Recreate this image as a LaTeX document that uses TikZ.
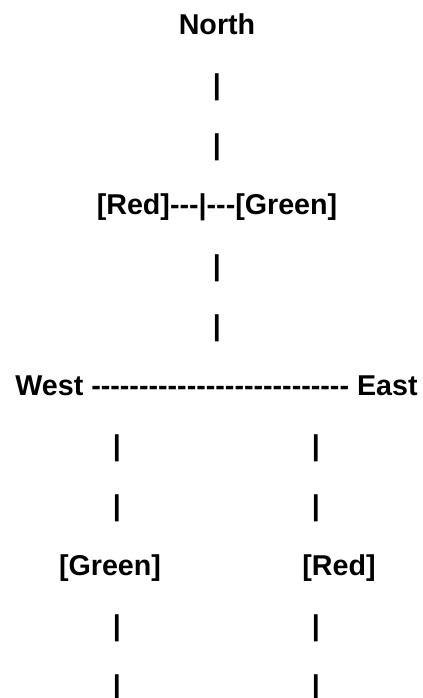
\documentclass[tikz,border=0pt]{standalone}
\usepackage{fontspec}
\setmainfont{Liberation Sans}[Ligatures=TeXOff]

\tikzstyle{word} = [font=\bfseries\fontsize{21.5}{25}\selectfont, inner sep=0pt, anchor=base]
\tikzstyle{bar} = [word]

\begin{document}
\begin{tikzpicture}[x=0.75pt, y=-0.75pt]
\useasboundingbox (0,0) rectangle (423,698);
% upper road
\node[word] (north) at (217,35) {North};
\node[bar] (n1) at (217,95) {|};
\node[bar] (n2) at (217,155) {|};
\node[word] (cross) at (217,215) {[Red]---|---[Green]};
\node[bar] (n3) at (217,275) {|};
\node[bar] (n4) at (217,335) {|};
% main road
\node[word] (road) at (216.5,395) {West --------------------------- East};
% west branch
\node[bar] (w1) at (117,455) {|};
\node[bar] (w2) at (117,515) {|};
\node[word] (wlight) at (110,575) {[Green]};
\node[bar] (w3) at (117,635) {|};
\node[bar] (w4) at (117,695) {|};
% east branch
\node[bar] (e1) at (316,455) {|};
\node[bar] (e2) at (316,515) {|};
\node[word] (elight) at (339,575) {[Red]};
\node[bar] (e3) at (316,635) {|};
\node[bar] (e4) at (316,695) {|};
\end{tikzpicture}
\end{document}
